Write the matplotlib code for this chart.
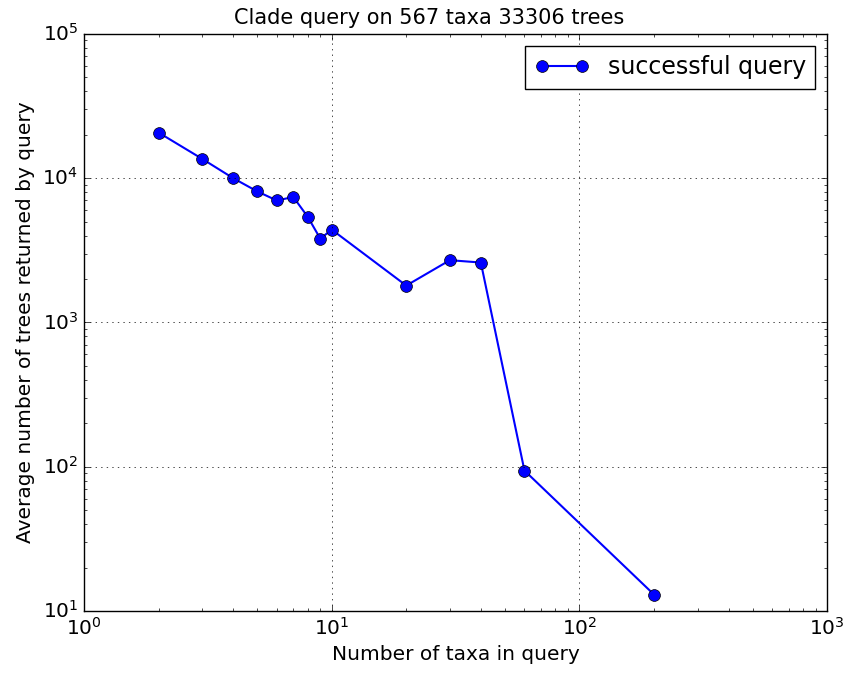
import numpy as np
import matplotlib
matplotlib.use('Agg')
import matplotlib.pyplot as plt

# average number of trees returned, per query size
taxa_in_query = [2, 3, 4, 5, 6, 7, 8, 9, 10, 20, 30, 40, 60, 200]
avg_trees = [20700, 13600, 10000, 8100, 7000, 7400, 5400, 3800, 4400,
             1800, 2700, 2600, 94, 13]

plt.style.use('classic')
plt.rcParams['figure.facecolor'] = 'white'
plt.rcParams['savefig.facecolor'] = 'white'
plt.rcParams['xtick.labelsize'] = 14.5
plt.rcParams['ytick.labelsize'] = 14.5

fig = plt.figure(figsize=(8.44, 6.77), dpi=100)
ax = fig.add_axes([0.0995, 0.0975, 0.8805, 0.8525])

ax.plot(taxa_in_query, avg_trees, 'bo-', mec='k', ms=8.5, lw=1.5,
        label='successful query')
ax.set_xscale('log')
ax.set_yscale('log')
ax.set_xlim(1, 1000)
ax.set_ylim(10, 1e5)
ax.grid(True)
ax.set_title('Clade query on 567 taxa 33306 trees', fontsize=15, x=0.464, y=1.005)
ax.set_xlabel('Number of taxa in query', fontsize=14.5)
ax.set_ylabel('Average number of trees returned by query', fontsize=14.5)
ax.legend(loc='upper right', numpoints=2, fontsize=17, handlelength=2.3)

fig.savefig('out.png', dpi=100)
